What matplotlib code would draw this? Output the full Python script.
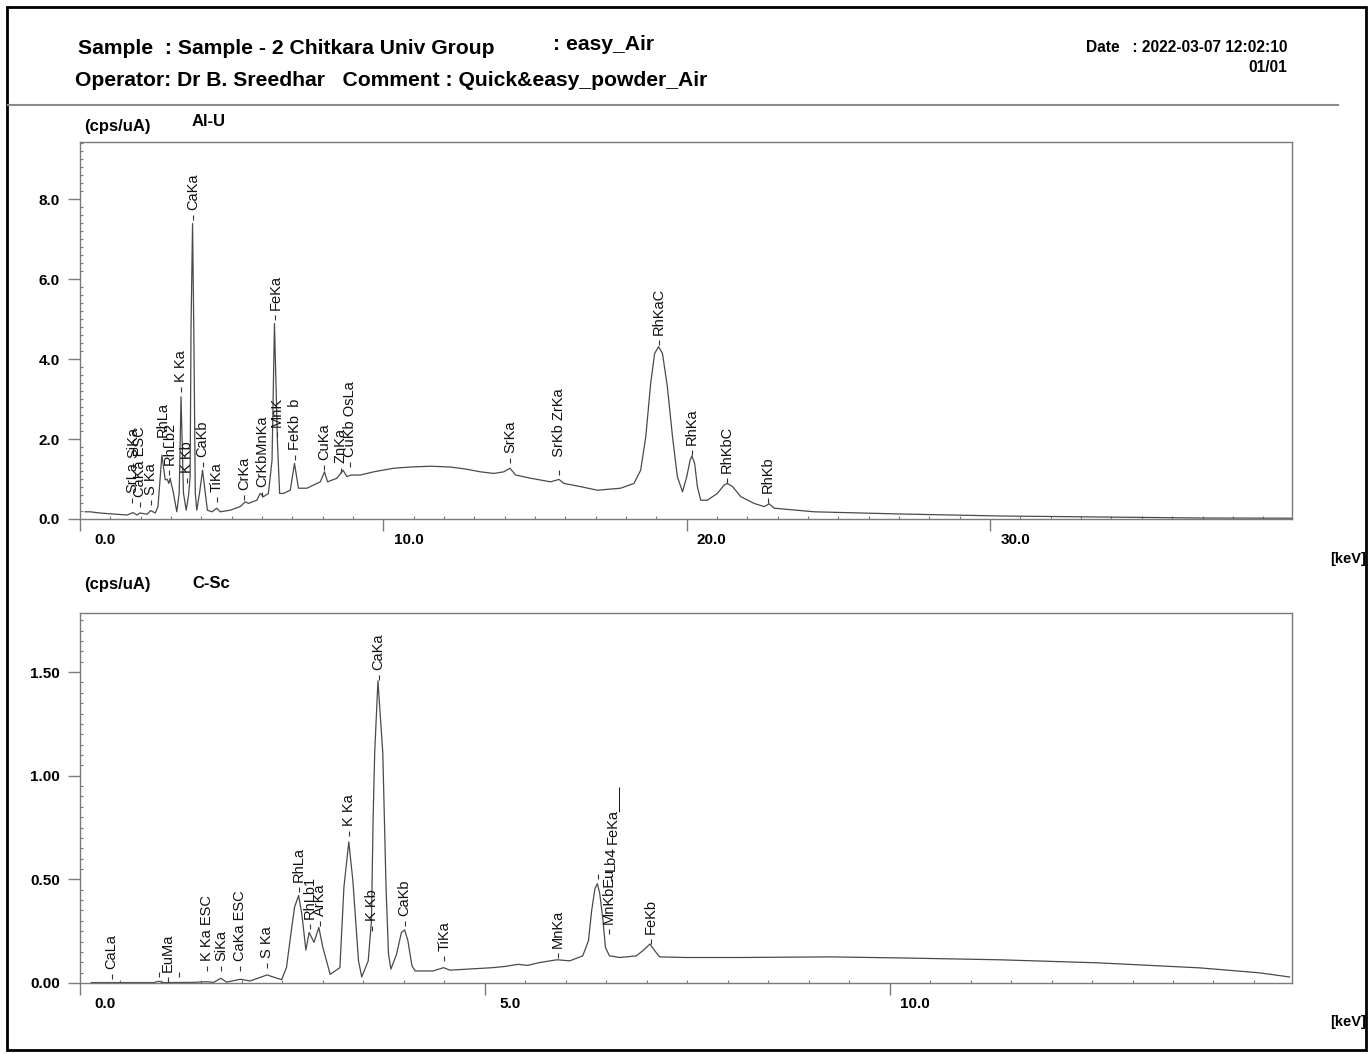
"""
XRF spectrum sheet: two panels (Al-U and C-Sc filters) with peak labels.
"""
import matplotlib
matplotlib.use("Agg")
import matplotlib.pyplot as plt
from matplotlib.lines import Line2D
from matplotlib.patches import Rectangle
from matplotlib.ticker import MultipleLocator, FormatStrFormatter

W, H = 1371, 1054

# Al-U spectrum, energy (keV) vs intensity (cps/uA)
alu_kev = [0.17, 0.33, 0.66, 1.09, 1.55, 1.75, 1.88, 1.98, 2.21, 2.33,
           2.48, 2.57, 2.70, 2.81, 2.88, 2.93, 2.97, 3.08, 3.19, 3.27,
           3.33, 3.41, 3.50, 3.58, 3.63, 3.66, 3.71, 3.75, 3.80, 3.85,
           3.94, 4.04, 4.13, 4.20, 4.35, 4.51, 4.62, 4.95, 5.28, 5.45,
           5.55, 5.83, 5.94, 6.05, 6.21, 6.33, 6.41, 6.51, 6.58, 6.71,
           6.93, 7.07, 7.20, 7.48, 7.70, 7.92, 8.06, 8.16, 8.47, 8.67,
           8.80, 8.93, 9.24, 9.68, 10.34, 10.89, 11.55, 12.21, 12.71, 13.20,
           13.64, 13.97, 14.17, 14.36, 14.85, 15.51, 15.79, 15.95, 16.50, 17.05,
           17.82, 18.26, 18.48, 18.65, 18.81, 18.94, 19.07, 19.20, 19.36, 19.53,
           19.69, 19.86, 20.00, 20.11, 20.17, 20.26, 20.35, 20.46, 20.68, 21.01,
           21.23, 21.34, 21.51, 21.78, 22.22, 22.55, 22.72, 22.88, 23.32, 24.20,
           27.06, 30.36, 33.66, 36.96, 39.93]
alu_cps = [0.18, 0.18, 0.15, 0.125, 0.10, 0.16, 0.10, 0.15, 0.12, 0.21,
           0.15, 0.31, 1.60, 0.98, 0.99, 0.89, 1.02, 0.65, 0.18, 0.65,
           3.06, 0.65, 0.22, 0.60, 1.06, 4.81, 7.39, 4.81, 0.65, 0.22,
           0.65, 1.22, 0.65, 0.22, 0.18, 0.27, 0.18, 0.22, 0.31, 0.43,
           0.39, 0.47, 0.64, 0.56, 0.64, 1.47, 4.89, 1.89, 0.64, 0.64,
           0.72, 1.39, 0.77, 0.77, 0.85, 0.93, 1.18, 0.93, 1.02, 1.22,
           1.06, 1.10, 1.10, 1.18, 1.27, 1.30, 1.32, 1.30, 1.25, 1.18,
           1.14, 1.18, 1.27, 1.10, 1.02, 0.93, 0.99, 0.89, 0.81, 0.72,
           0.77, 0.89, 1.22, 2.06, 3.39, 4.14, 4.31, 4.14, 3.31, 2.06,
           1.06, 0.68, 1.06, 1.47, 1.58, 1.39, 0.81, 0.47, 0.47, 0.64,
           0.85, 0.89, 0.81, 0.56, 0.39, 0.31, 0.38, 0.27, 0.24, 0.18,
           0.125, 0.075, 0.05, 0.025, 0.02]

alu_names = ["SrLa", "SiKa", "CaKa ESC", "S Ka", "RhLa", "RhLb2", "K Ka", "K Kb",
             "CaKa", "CaKb", "TiKa", "CrKa", "CrKbMnKa", "MnK", "FeKa", "FeKb  b",
             "CuKa", "ZnKa", "CuKb OsLa", "SrKa", "  SrKb ZrKa", "RhKaC", "RhKa",
             "RhKbC", "RhKb"]
alu_label_kev = [1.73, 1.76, 1.98, 2.33, 2.73, 2.95, 3.33, 3.54, 3.72, 4.04,
                 4.51, 5.42, 6.00, 6.49, 6.44, 7.10, 8.05, 8.60, 8.91, 14.17,
                 15.79, 19.07, 20.17, 21.32, 22.68]
alu_label_cps = [0.40, 1.28, 0.31, 0.35, 1.81, 1.10, 3.18, 0.90, 7.48, 1.31,
                 0.43, 0.48, 0.56, 2.06, 4.98, 1.48, 1.23, 1.15, 1.31, 1.39,
                 1.10, 4.35, 1.60, 0.89, 0.39]

# C-Sc spectrum
csc_kev = [0.14, 0.58, 0.91, 0.97, 1.03, 1.40, 1.56, 1.65, 1.74, 1.81,
           1.98, 2.10, 2.22, 2.31, 2.41, 2.49, 2.55, 2.61, 2.65, 2.70,
           2.74, 2.79, 2.83, 2.89, 2.95, 3.00, 3.09, 3.21, 3.26, 3.32,
           3.37, 3.44, 3.48, 3.56, 3.60, 3.62, 3.64, 3.68, 3.74, 3.78,
           3.81, 3.84, 3.91, 3.97, 4.01, 4.05, 4.10, 4.14, 4.36, 4.49,
           4.57, 5.10, 5.25, 5.41, 5.53, 5.68, 5.89, 6.05, 6.21, 6.28,
           6.32, 6.36, 6.39, 6.42, 6.46, 6.49, 6.54, 6.67, 6.87, 6.95,
           7.04, 7.10, 7.16, 7.49, 8.15, 9.26, 10.12, 11.36, 12.59, 13.83,
           14.57, 14.94]
csc_cps = [0.002, 0.002, 0.002, 0.008, 0.002, 0.003, 0.006, 0.003, 0.023, 0.004,
           0.018, 0.010, 0.026, 0.039, 0.026, 0.016, 0.074, 0.252, 0.366, 0.422,
           0.333, 0.159, 0.244, 0.196, 0.268, 0.171, 0.042, 0.074, 0.463, 0.681,
           0.495, 0.107, 0.029, 0.107, 0.301, 0.786, 1.112, 1.458, 1.110, 0.463,
           0.141, 0.067, 0.139, 0.244, 0.256, 0.204, 0.083, 0.058, 0.058, 0.074,
           0.062, 0.074, 0.080, 0.090, 0.085, 0.099, 0.112, 0.107, 0.131, 0.204,
           0.350, 0.455, 0.479, 0.431, 0.301, 0.171, 0.131, 0.123, 0.131, 0.155,
           0.188, 0.155, 0.126, 0.123, 0.123, 0.126, 0.121, 0.112, 0.097, 0.073,
           0.049, 0.029]

csc_names = ["CaLa", "", "EuMa", "", "K Ka ESC", "SiKa", "CaKa ESC", "S Ka",
             "RhLa", "RhLb1", "ArKa", "K Ka", "K Kb", "CaKa", "CaKb", "TiKa",
             "MnKa", "", "MnKbEu", "Lb4", "FeKa___", "FeKb"]
csc_label_kev = [0.39, 0.97, 1.09, 1.22, 1.57, 1.745, 1.98, 2.31, 2.70, 2.84,
                 2.97, 3.32, 3.61, 3.69, 4.01, 4.50, 5.90, 6.40, 6.53, 6.56,
                 6.57, 7.05]
csc_label_cps = [0.018, 0.03, 0.005, 0.03, 0.058, 0.058, 0.058, 0.074, 0.437, 0.26,
                 0.276, 0.711, 0.252, 1.461, 0.276, 0.106, 0.122, 0.502, 0.236, 0.493,
                 0.624, 0.187]

plt.rcParams['font.family'] = ['Liberation Sans', 'DejaVu Sans']

AXIS_GRAY = "#7a7a7a"
LINE_GRAY = "#4a4a4a"


def fx(px):
    return px / W


def fy(py):
    return 1 - py / H


def setup_axes(ax, xlim, ylim, xmajor, xminor, ymajor, yminor, yfmt):
    ax.set_xlim(*xlim)
    ax.set_ylim(*ylim)
    for side in ax.spines.values():
        side.set_color(AXIS_GRAY)
        side.set_linewidth(1.0)
    ax.xaxis.set_major_locator(MultipleLocator(xmajor))
    ax.xaxis.set_minor_locator(MultipleLocator(xminor))
    ax.yaxis.set_major_locator(MultipleLocator(ymajor))
    ax.yaxis.set_minor_locator(MultipleLocator(yminor))
    ax.yaxis.set_major_formatter(FormatStrFormatter(yfmt))
    ax.tick_params(which='major', direction='out', length=8.6, width=1.0,
                   color=AXIS_GRAY, pad=6)
    ax.tick_params(which='minor', direction='in', length=2.2, width=0.8,
                   color=AXIS_GRAY)
    ax.tick_params(axis='x', labelbottom=False)
    for lbl in ax.get_yticklabels():
        lbl.set_fontweight('bold')
        lbl.set_fontsize(11)
    # x tick labels sit to the right of their ticks
    for t in ax.get_xticks():
        if xlim[0] <= t <= xlim[1]:
            ax.annotate(f"{t:.1f}", xy=(t, 0), xycoords=('data', 'axes fraction'),
                        xytext=(18, -15), textcoords='offset points',
                        ha='center', va='center', fontsize=11, fontweight='bold')


def draw_peak_labels(ax, names, kev, levels):
    ax.plot(kev, levels, linestyle='none', marker=2, markersize=3.6,
            markeredgewidth=0.8, color="#333333")
    for name, e, lvl in zip(names, kev, levels):
        if not name:
            continue
        ax.annotate(name, xy=(e, lvl), xytext=(0, 7.2), textcoords='offset points',
                    rotation=90, ha='center', va='bottom', fontsize=10.5,
                    color="#111111")


fig = plt.figure(figsize=(W / 100, H / 100), dpi=100)

ax1 = fig.add_axes([fx(80), fy(519), fx(1292) - fx(80), fy(142) - fy(519)])
ax1.plot(alu_kev, alu_cps, color=LINE_GRAY, lw=0.9)
setup_axes(ax1, (0, 39.95), (0, 9.43), 10, 1, 2, 0.2, '%.1f')
draw_peak_labels(ax1, alu_names, alu_label_kev, alu_label_cps)

ax2 = fig.add_axes([fx(80), fy(983), fx(1292) - fx(80), fy(613) - fy(983)])
ax2.plot(csc_kev, csc_cps, color=LINE_GRAY, lw=0.9)
setup_axes(ax2, (0, 14.97), (0, 1.785), 5, 0.5, 0.5, 0.05, '%.2f')
draw_peak_labels(ax2, csc_names, csc_label_kev, csc_label_cps)

# header
fig.text(fx(78), fy(48), "Sample  : Sample - 2 Chitkara Univ Group",
         fontsize=15.2, fontweight='bold', va='center', ha='left')
fig.text(fx(553), fy(45), ": easy_Air", fontsize=15.2, fontweight='bold',
         va='center', ha='left')
fig.text(fx(75), fy(80), "Operator: Dr B. Sreedhar   Comment : Quick&easy_powder_Air",
         fontsize=15.2, fontweight='bold', va='center', ha='left')
fig.text(fx(1287), fy(48), "Date   : 2022-03-07 12:02:10", fontsize=11.2,
         fontweight='bold', va='center', ha='right')
fig.text(fx(1287), fy(67), "01/01", fontsize=11.2, fontweight='bold',
         va='center', ha='right')

# panel captions and units
for y_unit, y_name, y_kev, name in [(127, 122, 559, "Al-U"), (585, 584, 1022, "C-Sc")]:
    fig.text(fx(84), fy(y_unit), "(cps/uA)", fontsize=12, fontweight='bold',
             va='center', ha='left')
    fig.text(fx(192), fy(y_name), name, fontsize=12, fontweight='bold',
             va='center', ha='left')
    fig.text(fx(1348), fy(y_kev), "[keV]", fontsize=10.5, fontweight='bold',
             va='center', ha='center')

fig.add_artist(Line2D([fx(8), fx(1338)], [fy(105), fy(105)], color="#8a8a8a",
                      lw=1.5, transform=fig.transFigure))
fig.add_artist(Rectangle((fx(7), fy(1050)), fx(1366) - fx(7), fy(7) - fy(1050),
                         fill=False, edgecolor='black', lw=2,
                         transform=fig.transFigure))

fig.savefig("out.png", dpi=100)
